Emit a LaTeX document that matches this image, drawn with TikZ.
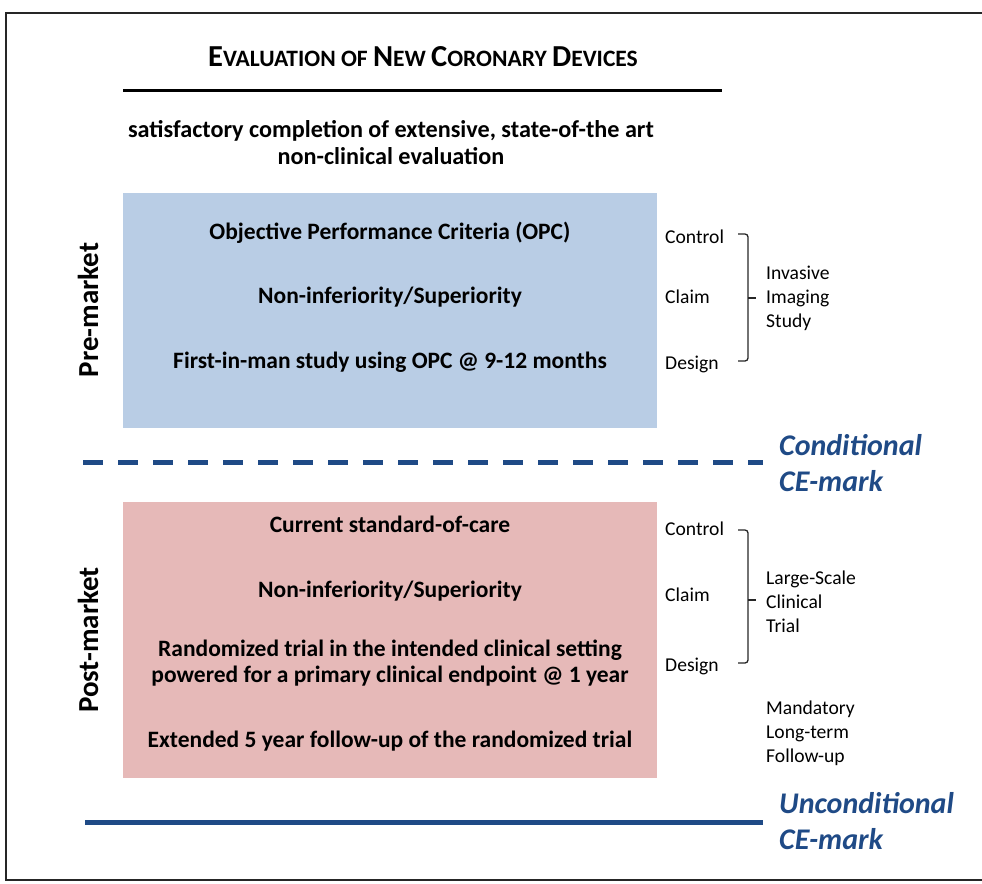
\documentclass[tikz,border=0pt]{standalone}
\usepackage{fontspec}
\setmainfont{Carlito}
\definecolor{boxblue}{HTML}{B9CDE5}
\definecolor{boxpink}{HTML}{E6B9B8}
\definecolor{markblue}{HTML}{1F4A86}
\newcommand{\bigC}{\fontsize{30.5}{34}\selectfont}
\newcommand{\smC}{\fontsize{23.5}{34}\selectfont}
\begin{document}
\begin{tikzpicture}[x=1pt,y=-1pt,
  boxtext/.style={font=\fontsize{23.5}{26}\selectfont\bfseries, align=center, inner sep=0pt},
  lbl/.style={font=\fontsize{19.6}{24}\selectfont, anchor=west, inner sep=0pt},
  grp/.style={font=\fontsize{19.6}{24}\selectfont, anchor=west, align=left, inner sep=0pt},
  phase/.style={font=\fontsize{29}{32}\selectfont\bfseries, rotate=90, inner sep=0pt},
  cemark/.style={font=\fontsize{30}{36}\selectfont\bfseries\itshape, text=markblue, anchor=west, align=left, inner sep=0pt},
  brk/.style={line width=1.3pt, rounded corners=3pt, draw=black!85},
  sep/.style={line width=5pt, draw=markblue}]
\useasboundingbox (0,0) rectangle (982,883);
% outer frame (open at right)
\draw[line width=2.5pt, black!85] (982,13) -- (6,13) -- (6,880) -- (982,880);
% title
\node[inner sep=0pt, font=\bfseries] (title) at (423,57)
  {\bigC E\smC VALUATION OF \bigC N\smC EW \bigC C\smC ORONARY \bigC D\smC EVICES};
\coordinate (tl) at (123,90);
\coordinate (tr) at (722,90);
\draw[line width=3pt] (tl) -- (tr);
\node[boxtext, font=\fontsize{24.2}{27}\selectfont\bfseries] (sat) at (391,143)
  {satisfactory completion of extensive, state-of-the art\\non-clinical evaluation};
% pre-market box
\fill[boxblue] (123,193) rectangle (657,428);
\node[boxtext] (p1) at (390,233) {Objective Performance Criteria (OPC)};
\node[boxtext] (p2) at (390,297) {Non-inferiority/Superiority};
\node[boxtext] (p3) at (390,362) {First-in-man study using OPC @ 9-12 months};
\node[phase] (pre) at (88,310) {Pre-market};
\node[lbl] (c1) at (665,237) {Control};
\node[lbl] (cl1) at (665,297) {Claim};
\node[lbl] (d1) at (665,364) {Design};
\coordinate (b1t) at (738,234);
\coordinate (b1b) at (738,361);
\draw[brk] (b1t) -- ++(10,0) -- ++(0,127) -- (b1b);
\coordinate (b1m) at (748,298);
\node[grp] (g1) at (766,298) {Invasive\\Imaging\\Study};
\draw[line width=1.3pt, black!85] (b1m) -- ++(8,0);
% conditional
\coordinate (dl) at (83,462);
\coordinate (dr) at (763,462);
\draw[sep, dash pattern=on 20pt off 15pt] (dl) -- (dr);
\node[cemark] (cond) at (779,463) {Conditional\\CE-mark};
% post-market box
\fill[boxpink] (123,502) rectangle (657,778);
\node[boxtext] (q1) at (390,524) {Current standard-of-care};
\node[boxtext] (q2) at (390,591) {Non-inferiority/Superiority};
\node[boxtext] (q3) at (390,663)
  {Randomized trial in the intended clinical setting\\powered for a primary clinical endpoint @ 1 year};
\node[boxtext] (q4) at (390,741) {Extended 5 year follow-up of the randomized trial};
\node[phase] (post) at (88,640) {Post-market};
\node[lbl] (c2) at (665,529) {Control};
\node[lbl] (cl2) at (665,595) {Claim};
\node[lbl] (d2) at (665,666) {Design};
\coordinate (b2t) at (738,530);
\coordinate (b2b) at (738,663);
\draw[brk] (b2t) -- ++(10,0) -- ++(0,133) -- (b2b);
\coordinate (b2m) at (748,600);
\node[grp] (g2) at (766,602) {Large-Scale\\Clinical\\Trial};
\draw[line width=1.3pt, black!85] (b2m) -- ++(8,0);
\node[grp] (g3) at (766,733) {Mandatory\\Long-term\\Follow-up};
% unconditional
\coordinate (sl) at (85,822);
\coordinate (sr) at (763,822);
\draw[sep] (sl) -- (sr);
\node[cemark] (uncond) at (779,821) {Unconditional\\CE-mark};
\end{tikzpicture}
\end{document}
